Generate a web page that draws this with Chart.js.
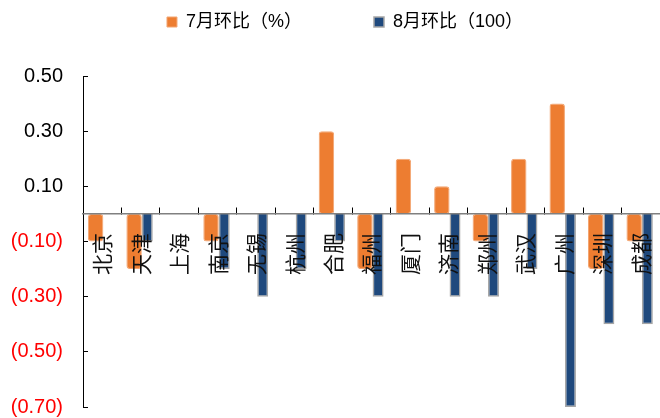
<!DOCTYPE html>
<html>
<head>
<meta charset="utf-8">
<script src="https://cdn.jsdelivr.net/npm/chart.js@4.4.1/dist/chart.umd.min.js"></script>
<style>
  html, body { margin: 0; padding: 0; background: #fff; }
  #wrap { width: 660px; height: 418px; }
</style>
</head>
<body>
<div id="wrap"><canvas id="chart"></canvas></div>
<script>
// data
const cities = ["北京", "天津", "上海", "南京", "无锡", "杭州", "合肥", "福州", "厦门", "济南", "郑州", "武汉", "广州", "深圳", "成都"];
const julyMoM = [-0.1, -0.2, 0, -0.1, 0, 0, 0.3, -0.2, 0.2, 0.1, -0.1, 0.2, 0.4, -0.2, -0.1];
const augMoM = [0, -0.1, 0, -0.2, -0.3, -0.2, -0.1, -0.3, 0, -0.3, -0.3, -0.2, -0.7, -0.4, -0.4];
const seriesNames = ["7月环比（%）", "8月环比（100）"];
const yTicks = [-0.7, -0.5, -0.3, -0.1, 0.1, 0.3, 0.5];

// negative numbers shown in red with brackets, like the excel source
function fmt(v) {
  return v < 0 ? "(" + Math.abs(v).toFixed(2) + ")" : v.toFixed(2);
}

// fixed legend height, and nudge it right a bit
const legendTweak = {
  id: "legendTweak",
  beforeInit(chart) {
    const fit = chart.legend.fit;
    chart.legend.fit = function () {
      fit.call(this);
      this.height = 76;
    };
  },
  afterLayout(chart) {
    chart.legend.left += 21;
  }
};

const ctx = document.getElementById("chart").getContext("2d");

new Chart(ctx, {
  type: "bar",
  data: {
    labels: cities,
    datasets: [{
      label: seriesNames[0],
      data: julyMoM,
      backgroundColor: "#ED7D31",
      borderColor: "#F3A673",
      borderWidth: 1,
      borderRadius: 3,
      borderSkipped: false,
      barPercentage: 1.17
    }, {
      label: seriesNames[1],
      data: augMoM,
      backgroundColor: "#1F497D",
      borderColor: "#A6A6A6",
      borderWidth: 1.5,
      barPercentage: 0.83
    }]
  },
  options: {
    responsive: true,
    maintainAspectRatio: false,
    animation: false,
    categoryPercentage: 0.686,
    layout: { padding: { left: 9, right: 0, top: 0, bottom: 11 } },
    plugins: {
      tooltip: { enabled: false },
      legend: {
        position: "top",
        labels: {
          boxWidth: 10,
          boxHeight: 10,
          padding: 13,
          color: "#000",
          font: { size: 18, family: "'Liberation Sans', 'Noto Sans CJK SC'" },
          generateLabels(chart) {
            const items = Chart.defaults.plugins.legend.labels.generateLabels(chart);
            items[0].text = items[0].text + "\u2003\u2003\u2003 ";
            return items;
          }
        }
      }
    },
    scales: {
      x: {
        position: { y: 0 },
        offset: true,
        afterFit: s => { s.paddingTop = 0; s.paddingBottom = 0; s.paddingLeft = 0; s.paddingRight = 0; },
        // zero line, ticks and city names sit on top of the bars
        border: { display: true, color: "#808080", width: 1.5, z: 1 },
        grid: { drawOnChartArea: false, tickLength: -7, color: "#000", offset: true, z: 1 },
        ticks: {
          z: 1,
          autoSkip: false,
          minRotation: 90,
          maxRotation: 90,
          padding: 26,
          color: "#111",
          font: { size: 21, family: "'Noto Sans CJK SC'" }
        }
      },
      y: {
        min: -0.7,
        max: 0.5,
        afterBuildTicks: s => { s.ticks = yTicks.map(v => ({ value: v })); },
        afterFit: s => { s.width = 74; s.paddingTop = 0; s.paddingBottom = 0; },
        border: { color: "#000", width: 1 },
        grid: { drawOnChartArea: false, tickLength: -5, color: "#000" },
        ticks: {
          padding: 25,
          color: c => (c.tick.value < 0 ? "#FF0000" : "#000"),
          font: { size: 20, family: "'Liberation Sans'" },
          callback: v => fmt(v)
        }
      }
    }
  },
  plugins: [legendTweak]
});
</script>
</body>
</html>
